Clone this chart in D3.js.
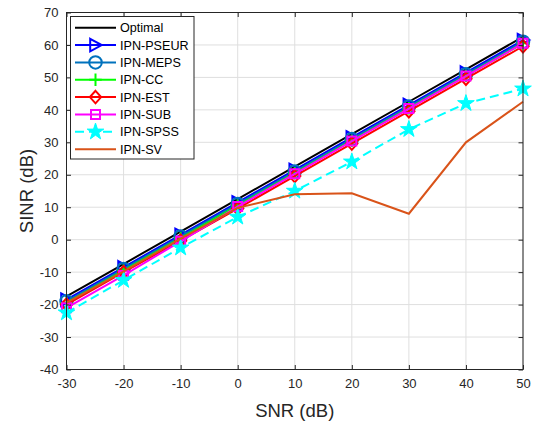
<!DOCTYPE html>
<html>
<head>
<meta charset="utf-8">
<script src="https://cdn.jsdelivr.net/npm/d3@7"></script>
<style>
  body { margin: 0; background: #fff; }
  svg { display: block; font-family: "Liberation Sans", Arial, sans-serif; }
</style>
</head>
<body>
<svg id="chart" width="546" height="422"></svg>
<script>
// data
var snr = [-30, -20, -10, 0, 10, 20, 30, 40, 50];
var xTicks = [-30, -20, -10, 0, 10, 20, 30, 40, 50];
var yTicks = [-40, -30, -20, -10, 0, 10, 20, 30, 40, 50, 60, 70];

var optimal = [-17.5, -7.5, 2.5, 12.5, 22.5, 32.5, 42.5, 52.5, 62.5];
var pseur   = [-18.5, -8.5, 1.5, 11.5, 21.5, 31.5, 41.5, 51.5, 61.5];
var meps    = [-19, -9, 1, 11, 21, 31, 41, 51, 61];
var cc      = [-19.5, -9.5, 0.5, 10.5, 20.5, 30.5, 40.5, 50.5, 60.5];
var est     = [-20, -10, -0.3, 9.6, 19.6, 29.6, 39.6, 49.6, 59.6];
var sub     = [-21, -11, -0.5, 10.2, 20.3, 30.4, 40.4, 50.4, 60.5];
var spss    = [-22.5, -12.5, -2.5, 7, 15, 24, 34, 42, 46.5];
var sv      = [-19.5, -9.8, 0.3, 9.8, 14, 14.3, 8, 30, 42.5];

var series = [
    {name: "Optimal",   values: optimal, color: "#000000", marker: null,     dash: null},
    {name: "IPN-PSEUR", values: pseur,   color: "#0000ff", marker: "tri",    dash: null},
    {name: "IPN-MEPS",  values: meps,    color: "#0072bd", marker: "circle", dash: null},
    {name: "IPN-CC",    values: cc,      color: "#00ff00", marker: "plus",   dash: null},
    {name: "IPN-EST",   values: est,     color: "#ff0000", marker: "diamond", dash: null},
    {name: "IPN-SUB",   values: sub,     color: "#ff00ff", marker: "square", dash: null},
    {name: "IPN-SPSS",  values: spss,    color: "#00ffff", marker: "star",   dash: "9,5"},
    {name: "IPN-SV",    values: sv,      color: "#d95319", marker: null,     dash: null}
];

var svg = d3.select("#chart");
var pLeft = 66.5, pRight = 523, pTop = 12.5, pBottom = 369.5;

var x = d3.scaleLinear().domain([-30, 50]).range([pLeft, pRight]);
var y = d3.scaleLinear().domain([-40, 70]).range([pBottom, pTop]);

// grid
var grid = svg.append("g").attr("stroke", "#dfdfdf").attr("stroke-width", 1);
xTicks.forEach(function (t) {
    grid.append("line").attr("x1", x(t)).attr("x2", x(t)).attr("y1", pTop).attr("y2", pBottom);
});
yTicks.forEach(function (t) {
    grid.append("line").attr("x1", pLeft).attr("x2", pRight).attr("y1", y(t)).attr("y2", y(t));
});

// marker shapes
function markerPath(type, s) {
    var h = s / 2;
    if (type === "tri") {
        return "M" + (-h * 0.85) + "," + (-h) + "L" + (h) + ",0L" + (-h * 0.85) + "," + h + "Z";
    }
    if (type === "circle") {
        return "M" + h + ",0A" + h + "," + h + " 0 1,1 " + (-h) + ",0A" + h + "," + h + " 0 1,1 " + h + ",0Z";
    }
    if (type === "plus") {
        return "M" + (-h) + ",0L" + h + ",0M0," + (-h) + "L0," + h;
    }
    if (type === "diamond") {
        return "M0," + (-h) + "L" + (h * 0.9) + ",0L0," + h + "L" + (-h * 0.9) + ",0Z";
    }
    if (type === "square") {
        var q = h * 0.72;
        return "M" + (-q) + "," + (-q) + "L" + q + "," + (-q) + "L" + q + "," + q + "L" + (-q) + "," + q + "Z";
    }
    if (type === "star") {
        return d3.symbol().type(d3.symbolStar).size(s * s * 0.55)();
    }
    return "";
}

function drawMarker(g, type, color, cx, cy) {
    if (!type) return;
    g.append("path")
        .attr("d", markerPath(type, 12.5))
        .attr("transform", "translate(" + cx + "," + cy + ")")
        .attr("fill", type === "star" ? color : "none")
        .attr("stroke", color)
        .attr("stroke-width", type === "star" ? 1 : 2);
}

// lines
var line = d3.line()
    .x(function (d, i) { return x(snr[i]); })
    .y(function (d) { return y(d); });

var plot = svg.append("g");
series.forEach(function (s) {
    var g = plot.append("g");
    g.append("path")
        .attr("d", line(s.values))
        .attr("fill", "none")
        .attr("stroke", s.color)
        .attr("stroke-width", 2)
        .attr("stroke-dasharray", s.dash);
    s.values.forEach(function (v, i) {
        drawMarker(g, s.marker, s.color, x(snr[i]), y(v));
    });
});

// axes box with inward ticks
var axisColor = "#262626";
var fmt = function (d) { return String(d); };
var ax = svg.append("g");
ax.append("rect").attr("x", pLeft).attr("y", pTop).attr("width", pRight - pLeft).attr("height", pBottom - pTop)
    .attr("fill", "none").attr("stroke", axisColor).attr("stroke-width", 1);

var xb = ax.append("g").attr("transform", "translate(0," + pBottom + ")")
    .call(d3.axisBottom(x).tickValues(xTicks).tickFormat(fmt).tickSizeInner(-4.5).tickSizeOuter(0).tickPadding(9));
var xt = ax.append("g").attr("transform", "translate(0," + pTop + ")")
    .call(d3.axisTop(x).tickValues(xTicks).tickSizeInner(-4.5).tickSizeOuter(0).tickFormat(""));
var yl = ax.append("g").attr("transform", "translate(" + pLeft + ",0)")
    .call(d3.axisLeft(y).tickValues(yTicks).tickFormat(fmt).tickSizeInner(-4.5).tickSizeOuter(0).tickPadding(8));
var yr = ax.append("g").attr("transform", "translate(" + pRight + ",0)")
    .call(d3.axisRight(y).tickValues(yTicks).tickSizeInner(-4.5).tickSizeOuter(0).tickFormat(""));

[xb, xt, yl, yr].forEach(function (a) {
    a.select(".domain").remove();
    a.selectAll("line").attr("stroke", axisColor);
    a.selectAll("text").attr("fill", axisColor).attr("font-size", 13)
        .style("font-family", "Liberation Sans, Arial, sans-serif");
});

// axis labels
svg.append("text")
    .attr("x", (pLeft + pRight) / 2).attr("y", 417)
    .attr("text-anchor", "middle").attr("font-size", 18.5).attr("fill", axisColor)
    .text("SNR (dB)");
svg.append("text")
    .attr("transform", "translate(33," + ((pTop + pBottom) / 2) + ") rotate(-90)")
    .attr("text-anchor", "middle").attr("font-size", 18.5).attr("fill", axisColor)
    .text("SINR (dB)");

// legend
var lg = svg.append("g");
lg.append("rect").attr("x", 70.5).attr("y", 16.5).attr("width", 123.5).attr("height", 142.5)
    .attr("fill", "#fff").attr("stroke", "#262626").attr("stroke-width", 1);
series.forEach(function (s, i) {
    var ry = 27.7 + i * 17.35;
    var row = lg.append("g");
    row.append("line").attr("x1", 75).attr("x2", 116).attr("y1", ry).attr("y2", ry)
        .attr("stroke", s.color).attr("stroke-width", 2).attr("stroke-dasharray", s.dash);
    drawMarker(row, s.marker, s.color, 95.5, ry);
    row.append("text").attr("x", 120).attr("y", ry + 4.5)
        .attr("font-size", 12.6).attr("fill", "#000").text(s.name);
});
</script>
</body>
</html>
